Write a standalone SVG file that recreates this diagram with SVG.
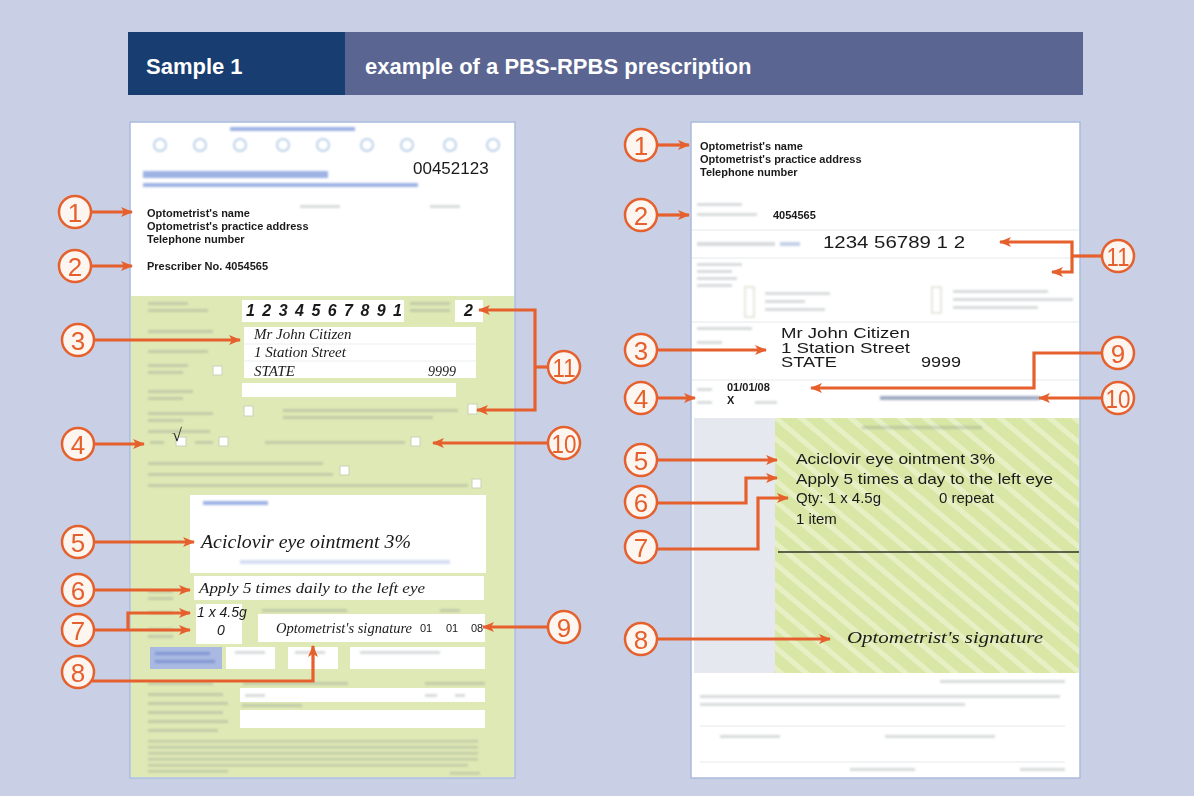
<svg xmlns="http://www.w3.org/2000/svg" width="1194" height="796" viewBox="0 0 1194 796">
<defs>
<style>
.b{fill:#7d878c;opacity:.3}
.bl{fill:#4f72cc;opacity:.55}
.w{fill:#fff}
.cb{fill:#fff;stroke:#c9d2b8;stroke-width:1}
.lbl{font-family:"Liberation Sans",Arial,sans-serif;font-weight:bold;font-size:11px;fill:#1a1a1a}
.ss{font-family:"Liberation Sans",Arial,sans-serif;fill:#1a1a1a}
.cal{font-family:"Liberation Serif","Times New Roman",serif;font-style:italic;fill:#1a1a1a}
.num{font-family:"Liberation Sans",Arial,sans-serif;font-size:26px;fill:#e5602d;text-anchor:middle}
.circ{fill:#fdf6f0;stroke:#e5602d;stroke-width:2.5}
.con{fill:none;stroke:#e5602d;stroke-width:3.2}
.hd{font-family:"Liberation Sans",Arial,sans-serif;font-weight:bold;font-size:22px;fill:#fff}
</style>
<marker id="ah" viewBox="0 0 12 10" refX="11" refY="5" markerWidth="12" markerHeight="10" markerUnits="userSpaceOnUse" orient="auto">
<path d="M0,0 L12,5 L0,10 L3,5 z" fill="#e5602d"/>
</marker>
<pattern id="hatch" patternUnits="userSpaceOnUse" width="16" height="16" patternTransform="rotate(-50)">
<rect width="16" height="16" fill="#d8e7a6"/>
<rect width="5" height="16" fill="#e7f0c4"/>
</pattern>
<filter id="blur" x="-5%" y="-50%" width="110%" height="200%"><feGaussianBlur stdDeviation="0.9"/></filter>
</defs>

<rect x="0" y="0" width="1194" height="796" fill="#c9cfe4"/>

<g id="header">
<rect x="128" y="32" width="217" height="63" fill="#183d70"/>
<rect x="345" y="32" width="738" height="63" fill="#5a6592"/>
<text class="hd" x="146" y="74">Sample 1</text>
<text class="hd" x="365" y="74">example of a PBS-RPBS prescription</text>
</g>

<g id="left-form">
<rect x="130" y="122" width="385" height="656" fill="#fff" stroke="#a8bcdb" stroke-width="1.5"/>
<rect x="131" y="296" width="383" height="481" fill="#dfe9b5"/>
<g filter="url(#blur)">
<rect class="bl" x="230" y="127" width="125" height="4" opacity=".3"/>
<g fill="none" stroke="#bcd0e8" stroke-width="2">
<circle cx="160" cy="145" r="6"/><circle cx="200" cy="145" r="6"/><circle cx="240" cy="145" r="6"/><circle cx="283" cy="145" r="6"/><circle cx="323" cy="145" r="6"/><circle cx="367" cy="145" r="6"/><circle cx="407" cy="145" r="6"/><circle cx="450" cy="145" r="6"/><circle cx="493" cy="145" r="6"/>
</g>
<rect class="bl" x="143" y="171" width="185" height="7"/>
<rect class="bl" x="143" y="183" width="275" height="4" opacity=".45"/>
<rect class="b" x="300" y="205" width="40" height="3" opacity=".12"/>
<rect class="b" x="430" y="205" width="30" height="3" opacity=".12"/>
<rect class="b" x="148" y="302" width="40" height="3"/><rect class="b" x="148" y="309" width="60" height="3"/>
<rect class="b" x="410" y="302" width="40" height="3"/><rect class="b" x="410" y="309" width="40" height="3"/>
<rect class="b" x="148" y="330" width="65" height="3"/>
<rect class="b" x="148" y="350" width="60" height="3"/>
<rect class="b" x="148" y="364" width="40" height="3"/><rect class="b" x="148" y="371" width="35" height="3"/>
<rect class="b" x="148" y="390" width="45" height="3"/><rect class="b" x="148" y="397" width="35" height="3"/>
<rect class="b" x="148" y="412" width="65" height="3"/><rect class="b" x="148" y="419" width="35" height="3"/>
<rect class="b" x="283" y="409" width="175" height="3"/><rect class="b" x="283" y="416" width="150" height="3"/>
<rect class="b" x="148" y="430" width="62" height="3"/>
<rect class="b" x="150" y="441" width="14" height="3"/><rect class="b" x="195" y="441" width="18" height="3"/>
<rect class="b" x="265" y="441" width="140" height="3"/>
<rect class="b" x="148" y="462" width="175" height="3"/>
<rect class="b" x="148" y="473" width="185" height="3"/>
<rect class="b" x="148" y="484" width="320" height="3"/>
<rect class="b" x="148" y="590" width="25" height="3"/><rect class="b" x="148" y="597" width="25" height="3"/>
<rect class="b" x="148" y="611" width="25" height="3"/><rect class="b" x="148" y="628" width="25" height="3"/><rect class="b" x="148" y="635" width="25" height="3"/>
<rect class="b" x="262" y="609" width="85" height="3"/><rect class="b" x="440" y="609" width="20" height="3"/>
<rect class="b" x="148" y="682" width="65" height="3"/><rect class="b" x="243" y="682" width="105" height="3"/><rect class="b" x="425" y="682" width="60" height="3"/>
<rect class="b" x="148" y="693" width="75" height="3"/><rect class="b" x="148" y="702" width="80" height="3"/><rect class="b" x="148" y="711" width="75" height="3"/><rect class="b" x="148" y="720" width="80" height="3"/><rect class="b" x="148" y="729" width="70" height="3"/>
<rect class="b" x="242" y="704" width="60" height="3"/>
<rect class="b" x="148" y="740" width="330" height="2.5"/><rect class="b" x="148" y="746" width="330" height="2.5"/><rect class="b" x="148" y="752" width="330" height="2.5"/><rect class="b" x="148" y="758" width="330" height="2.5"/><rect class="b" x="148" y="764" width="320" height="2.5"/><rect class="b" x="148" y="770" width="80" height="2.5"/>
<rect class="b" x="450" y="772" width="30" height="2.5"/>
</g>
<rect class="w" x="242" y="300" width="162" height="22"/>
<rect class="w" x="455" y="300" width="28" height="22"/>
<rect class="w" x="244" y="327" width="232" height="51"/>
<line x1="244" y1="344" x2="476" y2="344" stroke="#eceff0"/>
<line x1="244" y1="361" x2="476" y2="361" stroke="#eceff0"/>
<rect class="w" x="242" y="383" width="214" height="14"/>
<rect class="cb" x="213" y="366" width="9" height="9"/>
<rect class="cb" x="244" y="406" width="9" height="10"/>
<rect class="cb" x="468" y="404" width="9" height="10"/>
<rect class="cb" x="176" y="437" width="10" height="9"/>
<rect class="cb" x="219" y="437" width="9" height="9"/>
<rect class="cb" x="411" y="437" width="9" height="9"/>
<rect class="cb" x="472" y="479" width="9" height="9"/>
<rect class="cb" x="340" y="466" width="9" height="9"/>
<rect class="w" x="190" y="495" width="296" height="78"/>
<rect class="w" x="194" y="576" width="290" height="24"/>
<rect class="w" x="196" y="604" width="46" height="40"/>
<rect class="w" x="258" y="614" width="227" height="28"/>
<rect x="150" y="647" width="72" height="22" fill="#a9b9e2"/>
<rect class="w" x="226" y="647" width="49" height="22"/>
<rect class="w" x="288" y="647" width="50" height="22"/>
<rect class="w" x="350" y="647" width="135" height="22"/>
<rect class="w" x="240" y="688" width="245" height="14"/>
<rect class="w" x="240" y="710" width="245" height="18"/>
<g filter="url(#blur)">
<rect class="bl" x="203" y="501" width="65" height="4"/>
<rect x="240" y="560" width="210" height="4" fill="#a9bce6" opacity=".5"/>
<rect class="b" x="235" y="651" width="30" height="3"/><rect class="b" x="295" y="651" width="30" height="3"/><rect class="b" x="360" y="651" width="80" height="3"/>
<rect x="155" y="652" width="55" height="3" fill="#5a78c8" opacity=".5"/><rect x="155" y="660" width="60" height="3" fill="#5a78c8" opacity=".5"/>
<rect class="b" x="245" y="694" width="20" height="3"/><rect class="b" x="425" y="694" width="12" height="3"/><rect class="b" x="455" y="694" width="10" height="3"/>
</g>
<text class="ss" x="413" y="174" font-size="17">00452123</text>
<text class="lbl" x="147" y="217">Optometrist's name</text>
<text class="lbl" x="147" y="230">Optometrist's practice address</text>
<text class="lbl" x="147" y="243">Telephone number</text>
<text class="lbl" x="147" y="270">Prescriber No. 4054565</text>
<text class="ss" x="246" y="316" font-size="16" font-weight="bold" font-style="italic" textLength="156" lengthAdjust="spacing">1 2 3 4 5 6 7 8 9 1</text>
<text class="ss" x="464" y="316" font-size="16" font-weight="bold" font-style="italic">2</text>
<text class="cal" x="254" y="339" font-size="15">Mr John Citizen</text>
<text class="cal" x="254" y="357" font-size="15">1 Station Street</text>
<text class="cal" x="254" y="376" font-size="15">STATE</text>
<text class="cal" x="428" y="376" font-size="14">9999</text>
<text class="cal" x="172" y="441" font-size="18" font-style="normal">√</text>
<text class="cal" x="201" y="548" font-size="18" textLength="210" lengthAdjust="spacingAndGlyphs">Aciclovir eye ointment 3%</text>
<text class="cal" x="199" y="593" font-size="15" textLength="226" lengthAdjust="spacingAndGlyphs">Apply 5 times daily to the left eye</text>
<text class="ss" x="197" y="617" font-size="14" font-style="italic">1 x 4.5g</text>
<text class="ss" x="217" y="635" font-size="14" font-style="italic">0</text>
<text class="cal" x="276" y="633" font-size="14" textLength="136" lengthAdjust="spacingAndGlyphs">Optometrist's signature</text>
<text class="ss" x="420" y="632" font-size="11">01</text>
<text class="ss" x="446" y="632" font-size="11">01</text>
<text class="ss" x="471" y="632" font-size="11">08</text>
</g>

<g id="right-form">
<rect x="691" y="122" width="389" height="656" fill="#fff" stroke="#a8bcdb" stroke-width="1.5"/>
<rect x="694" y="418" width="81" height="255" fill="#e5e8ef"/>
<rect x="775" y="418" width="304" height="255" fill="url(#hatch)"/>
<line x1="778" y1="552" x2="1079" y2="552" stroke="#2e3326" stroke-width="1.5"/>
<g stroke="#e6e8ec" stroke-width="1">
<line x1="692" y1="230" x2="1079" y2="230"/>
<line x1="692" y1="258" x2="1079" y2="258"/>
<line x1="692" y1="322" x2="1079" y2="322"/>
<line x1="692" y1="380" x2="1079" y2="380"/>
<line x1="700" y1="726" x2="1065" y2="726"/>
<line x1="700" y1="762" x2="1065" y2="762"/>
</g>
<g filter="url(#blur)">
<rect class="b" x="697" y="203" width="45" height="3"/><rect class="b" x="697" y="213" width="60" height="3"/>
<rect class="b" x="697" y="242" width="78" height="4"/><rect x="780" y="242" width="20" height="4" fill="#6b86c8" opacity=".4"/>
<rect class="b" x="697" y="263" width="45" height="3"/><rect class="b" x="697" y="270" width="35" height="3"/><rect class="b" x="697" y="277" width="40" height="3"/><rect class="b" x="697" y="284" width="35" height="3"/>
<rect class="cb" x="745" y="287" width="9" height="30"/>
<rect class="b" x="765" y="292" width="65" height="3"/><rect class="b" x="765" y="300" width="40" height="3"/><rect class="b" x="765" y="308" width="60" height="3"/>
<rect class="cb" x="932" y="287" width="9" height="26"/>
<rect class="b" x="953" y="290" width="95" height="3"/><rect class="b" x="953" y="298" width="120" height="3"/><rect class="b" x="953" y="306" width="85" height="3"/>
<rect class="b" x="697" y="327" width="55" height="3"/><rect class="b" x="697" y="341" width="25" height="3"/>
<rect class="b" x="697" y="388" width="15" height="3"/><rect class="b" x="697" y="401" width="15" height="3"/><rect class="b" x="755" y="401" width="22" height="3"/>
<rect x="880" y="396" width="160" height="4" fill="#51648e" opacity=".55"/>
<rect class="b" x="862" y="426" width="120" height="3"/>
<rect class="b" x="940" y="680" width="125" height="3"/>
<rect class="b" x="700" y="695" width="360" height="3"/><rect class="b" x="700" y="703" width="265" height="3"/>
<rect class="b" x="720" y="735" width="60" height="3"/><rect class="b" x="885" y="735" width="110" height="3"/>
<rect class="b" x="850" y="768" width="65" height="3"/><rect class="b" x="1020" y="768" width="45" height="3"/>
</g>
<text class="lbl" x="700" y="150">Optometrist's name</text>
<text class="lbl" x="700" y="163">Optometrist's practice address</text>
<text class="lbl" x="700" y="176">Telephone number</text>
<text class="lbl" x="773" y="219" font-size="10">4054565</text>
<text class="ss" x="823" y="248" font-size="17" textLength="142" lengthAdjust="spacingAndGlyphs">1234 56789 1 2</text>
<text class="ss" x="781" y="338" font-size="14" textLength="129" lengthAdjust="spacingAndGlyphs">Mr John Citizen</text>
<text class="ss" x="781" y="352.5" font-size="14" textLength="129" lengthAdjust="spacingAndGlyphs">1 Station Street</text>
<text class="ss" x="781" y="367" font-size="14" textLength="56" lengthAdjust="spacingAndGlyphs">STATE</text>
<text class="ss" x="921" y="367" font-size="14" textLength="40" lengthAdjust="spacingAndGlyphs">9999</text>
<text class="lbl" x="727" y="391">01/01/08</text>
<text class="lbl" x="727" y="404">X</text>
<text class="ss" x="796" y="464" font-size="15" textLength="199" lengthAdjust="spacingAndGlyphs">Aciclovir eye ointment 3%</text>
<text class="ss" x="796" y="484" font-size="15" textLength="257" lengthAdjust="spacingAndGlyphs">Apply 5 times a day to the left eye</text>
<text class="ss" x="796" y="503" font-size="15">Qty:  1 x 4.5g</text>
<text class="ss" x="939" y="503" font-size="15">0 repeat</text>
<text class="ss" x="796" y="524" font-size="15">1 item</text>
<text class="cal" x="847" y="643" font-size="17" textLength="196" lengthAdjust="spacingAndGlyphs">Optometrist's signature</text>
</g>

<g id="connectors">
<path class="con" marker-end="url(#ah)" d="M91,212 H132"/>
<path class="con" marker-end="url(#ah)" d="M91,266 H132"/>
<path class="con" marker-end="url(#ah)" d="M94,340 H240"/>
<path class="con" marker-end="url(#ah)" d="M94,444 H144"/>
<path class="con" marker-end="url(#ah)" d="M94,542 H194"/>
<path class="con" marker-end="url(#ah)" d="M94,590 H190"/>
<path class="con" marker-end="url(#ah)" d="M94,630 H190"/>
<path class="con" marker-end="url(#ah)" d="M128,630 V613 H190"/>
<path class="con" marker-end="url(#ah)" d="M92,681 H313 V646"/>
<path class="con" marker-end="url(#ah)" d="M548,627 H483"/>
<path class="con" marker-end="url(#ah)" d="M548,443 H433"/>
<path class="con" d="M548,367 H535"/>
<path class="con" marker-end="url(#ah)" d="M535,367 V310 H479"/>
<path class="con" marker-end="url(#ah)" d="M535,367 V410 H477"/>

<path class="con" marker-end="url(#ah)" d="M657,145 H689"/>
<path class="con" marker-end="url(#ah)" d="M657,215 H689"/>
<path class="con" marker-end="url(#ah)" d="M657,350 H766"/>
<path class="con" marker-end="url(#ah)" d="M657,398 H695"/>
<path class="con" marker-end="url(#ah)" d="M657,460 H777"/>
<path class="con" marker-end="url(#ah)" d="M656,503 H746 V478 H777"/>
<path class="con" marker-end="url(#ah)" d="M656,549 H758 V498 H788"/>
<path class="con" marker-end="url(#ah)" d="M657,639 H830"/>
<path class="con" marker-end="url(#ah)" d="M1102,353 H1034 V388 H811"/>
<path class="con" marker-end="url(#ah)" d="M1102,398 H1039"/>
<path class="con" d="M1102,256 H1072"/>
<path class="con" marker-end="url(#ah)" d="M1072,256 V242 H1000"/>
<path class="con" marker-end="url(#ah)" d="M1072,256 V272 H1052"/>
</g>

<g id="callouts">
<g><circle class="circ" cx="75" cy="212" r="16"/><text class="num" x="75" y="221.5">1</text></g>
<g><circle class="circ" cx="75" cy="266" r="16"/><text class="num" x="75" y="275.5">2</text></g>
<g><circle class="circ" cx="78" cy="340" r="16"/><text class="num" x="78" y="349.5">3</text></g>
<g><circle class="circ" cx="78" cy="444" r="16"/><text class="num" x="78" y="453.5">4</text></g>
<g><circle class="circ" cx="78" cy="542" r="16"/><text class="num" x="78" y="551.5">5</text></g>
<g><circle class="circ" cx="78" cy="590" r="16"/><text class="num" x="78" y="599.5">6</text></g>
<g><circle class="circ" cx="78" cy="630" r="16"/><text class="num" x="78" y="639.5">7</text></g>
<g><circle class="circ" cx="78" cy="672" r="16"/><text class="num" x="78" y="681.5">8</text></g>
<g><circle class="circ" cx="564" cy="627" r="16"/><text class="num" x="564" y="636.5">9</text></g>
<g><circle class="circ" cx="564" cy="443" r="16"/><text class="num" x="564" y="452.5" textLength="25" lengthAdjust="spacingAndGlyphs">10</text></g>
<g><circle class="circ" cx="564" cy="367" r="16"/><text class="num" x="564" y="376.5" textLength="23" lengthAdjust="spacingAndGlyphs">11</text></g>

<g><circle class="circ" cx="641" cy="145" r="16"/><text class="num" x="641" y="154.5">1</text></g>
<g><circle class="circ" cx="641" cy="215" r="16"/><text class="num" x="641" y="224.5">2</text></g>
<g><circle class="circ" cx="641" cy="350" r="16"/><text class="num" x="641" y="359.5">3</text></g>
<g><circle class="circ" cx="641" cy="398" r="16"/><text class="num" x="641" y="407.5">4</text></g>
<g><circle class="circ" cx="641" cy="460" r="16"/><text class="num" x="641" y="469.5">5</text></g>
<g><circle class="circ" cx="641" cy="502" r="16"/><text class="num" x="641" y="511.5">6</text></g>
<g><circle class="circ" cx="641" cy="547" r="16"/><text class="num" x="641" y="556.5">7</text></g>
<g><circle class="circ" cx="641" cy="639" r="16"/><text class="num" x="641" y="648.5">8</text></g>
<g><circle class="circ" cx="1118" cy="353" r="16"/><text class="num" x="1118" y="362.5">9</text></g>
<g><circle class="circ" cx="1118" cy="398" r="16"/><text class="num" x="1118" y="407.5" textLength="25" lengthAdjust="spacingAndGlyphs">10</text></g>
<g><circle class="circ" cx="1118" cy="256" r="16"/><text class="num" x="1118" y="265.5" textLength="23" lengthAdjust="spacingAndGlyphs">11</text></g>
</g>
</svg>
